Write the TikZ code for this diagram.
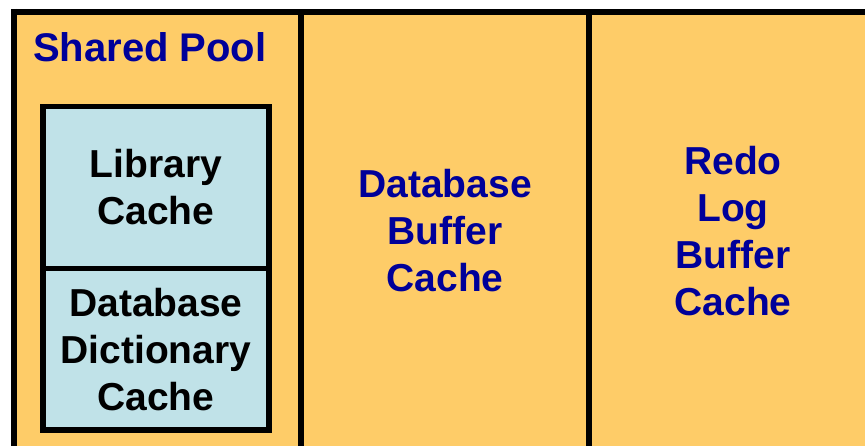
\documentclass[tikz,border=0pt]{standalone}
\usepackage{fontspec}
\setmainfont{Liberation Sans}
\definecolor{poolorange}{HTML}{FECC68}
\definecolor{cacheblue}{HTML}{C0E2E8}
\definecolor{textblue}{HTML}{000099}
\tikzset{
  frameline/.style={line width=6pt, black},
  bigtext/.style={font=\fontsize{39}{47}\selectfont\bfseries, align=center, inner sep=0pt},
  cachebox/.style={draw=black, line width=5.5pt, fill=cacheblue, minimum width=226pt, inner sep=0pt, bigtext, text=black},
}
\begin{document}
\begin{tikzpicture}[x=1pt,y=-1pt]
  \useasboundingbox (0,0) rectangle (865,446);
  \fill[white] (0,0) rectangle (865,446);
  \begin{scope}
    \clip (0,0) rectangle (865,446);
    \fill[poolorange] (14,12) rectangle (880,460);
    \draw[frameline] (11,12) -- (880,12);
    \draw[frameline] (14,9) -- (14,460);
    \draw[frameline] (300.5,12) -- (300.5,460);
    \draw[frameline] (588.5,12) -- (588.5,460);
  \end{scope}
  \node[bigtext, font=\fontsize{40}{48}\selectfont\bfseries, text=textblue, anchor=base west] (pool) at (33,62) {Shared Pool};
  \node[cachebox, minimum height=162pt] (lib) at (156,187.5) {Library\\Cache};
  \node[cachebox, minimum height=161.5pt] (dict) at (156,349.25) {Database\\Dictionary\\Cache};
  \node[bigtext, text=textblue] (dbbuf) at (445,231) {Database\\Buffer\\Cache};
  \node[bigtext, text=textblue] (redo) at (733,231) {Redo\\Log\\Buffer\\Cache};
\end{tikzpicture}
\end{document}
